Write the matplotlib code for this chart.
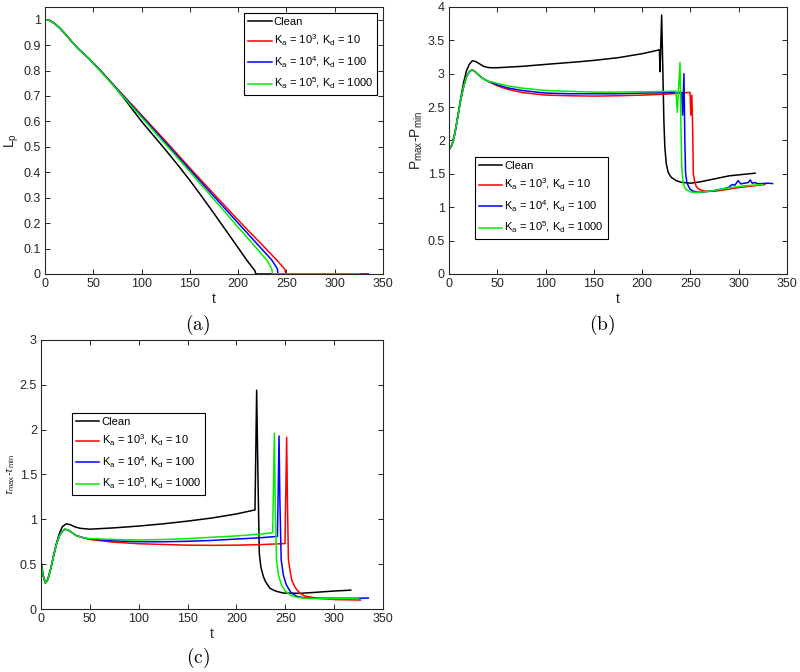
import matplotlib
matplotlib.use('Agg')
import matplotlib.pyplot as plt
from matplotlib.ticker import FormatStrFormatter

plt.rcParams['font.family'] = ['Liberation Sans', 'DejaVu Sans']
plt.rcParams['mathtext.fontset'] = 'custom'
plt.rcParams['mathtext.rm'] = 'Liberation Sans'
plt.rcParams['mathtext.it'] = 'Liberation Sans:italic'
plt.rcParams['mathtext.bf'] = 'Liberation Sans:bold'

labels = ['Clean',
          r'K$_\mathrm{a}$ = 10$^3$, K$_\mathrm{d}$ = 10',
          r'K$_\mathrm{a}$ = 10$^4$, K$_\mathrm{d}$ = 100',
          r'K$_\mathrm{a}$ = 10$^5$, K$_\mathrm{d}$ = 1000']
colors = ['black', 'red', 'blue', '#00ee00']

# (a) L_p
a_start_t = [0, 5, 10, 15, 20, 25, 30, 35, 40, 45]
a_start_y = [1.0, 0.997, 0.985, 0.968, 0.948, 0.926, 0.904, 0.884, 0.866, 0.849]

a_clean_t = a_start_t + [50, 60, 70, 80, 90, 100, 110, 120, 130, 140, 150, 160, 175, 190, 200,
                         208.8, 217.5, 218.2, 317]
a_clean_y = a_start_y + [0.830, 0.790, 0.746, 0.700, 0.650, 0.600, 0.555, 0.510, 0.464, 0.417,
                         0.368, 0.317, 0.238, 0.157, 0.103, 0.055, 0.012, 0, 0]
a_red_t = a_start_t + [50, 60, 80, 100, 125, 151.9, 175, 200, 225, 239.9, 245, 248.5, 249.3, 327]
a_red_y = a_start_y + [0.829, 0.789, 0.707, 0.625, 0.522, 0.409, 0.314, 0.212, 0.114, 0.055, 0.033, 0.018, 0, 0]
a_blue_t = a_start_t + [50, 60, 80, 100, 125, 150.2, 175, 200, 225, 234.8, 238, 240.6, 241.3, 335]
a_blue_y = a_start_y + [0.829, 0.788, 0.705, 0.621, 0.516, 0.409, 0.305, 0.200, 0.096, 0.055, 0.036, 0.020, 0, 0]
a_green_t = a_start_t + [50, 60, 80, 100, 125, 148.5, 175, 200, 215, 229.5, 232.5, 234.8, 235.5, 326]
a_green_y = a_start_y + [0.829, 0.787, 0.702, 0.616, 0.509, 0.409, 0.293, 0.184, 0.119, 0.055, 0.036, 0.020, 0, 0]

# (b) P_max - P_min
b_clean_t = [0, 3, 6, 9, 12, 15, 18, 21, 24.2, 28, 32, 36, 40, 43, 50, 75, 100, 135, 150, 175,
             200, 217, 217.9, 218.5, 220.2, 221.5, 222.5, 223.5, 225, 227, 230, 235, 240, 250,
             260, 270, 280, 290, 300, 317]
b_clean_y = [1.86, 1.93, 2.1, 2.35, 2.62, 2.86, 3.04, 3.14, 3.195, 3.18, 3.145, 3.11, 3.095, 3.09,
             3.09, 3.11, 3.14, 3.18, 3.2, 3.24, 3.30, 3.355, 3.36, 3.03, 3.88, 3.0, 2.3, 1.9, 1.65,
             1.52, 1.45, 1.40, 1.375, 1.36, 1.38, 1.41, 1.44, 1.47, 1.485, 1.51]
b_start_t = [0, 3, 6, 9, 12, 15, 18, 21, 23.5, 26, 30, 35, 40]
b_start_y = [1.86, 1.93, 2.1, 2.35, 2.6, 2.8, 2.95, 3.03, 3.055, 3.045, 2.99, 2.93, 2.89]
b_red_t = b_start_t + [45, 50, 60, 75, 100, 125, 150, 175, 200, 225, 249.6, 250.4, 251.5, 252.3,
                       253, 254.5, 256, 258, 262, 267, 275, 285, 300, 315, 327]
b_red_y = b_start_y + [2.855, 2.82, 2.77, 2.72, 2.68, 2.67, 2.665, 2.67, 2.68, 2.695, 2.72, 2.38,
                       2.68, 2.2, 1.5, 1.38, 1.31, 1.28, 1.25, 1.24, 1.24, 1.26, 1.295, 1.32, 1.34]
b_blue_t = b_start_t + [45, 50, 60, 75, 100, 125, 150, 175, 200, 225, 241, 241.9, 243.3, 244.2,
                        245, 246.5, 249.6, 253, 258, 265, 275, 285, 290, 293, 296, 299.5, 302,
                        306, 310, 312, 314, 317, 320, 325, 330, 335]
b_blue_y = b_start_y + [2.865, 2.835, 2.79, 2.75, 2.71, 2.70, 2.70, 2.70, 2.71, 2.715, 2.72, 2.38,
                        3.0, 2.0, 1.5, 1.36, 1.27, 1.24, 1.225, 1.23, 1.25, 1.28, 1.30, 1.34,
                        1.33, 1.40, 1.35, 1.36, 1.37, 1.41, 1.36, 1.37, 1.35, 1.355, 1.36, 1.355]
b_green_t = b_start_t + [45, 50, 60, 75, 100, 125, 150, 175, 200, 225, 235, 236.4, 237.5, 239.2,
                         240.2, 241, 242.5, 245, 250, 255, 260, 270, 280, 290, 300, 310, 320, 325]
b_green_y = b_start_y + [2.875, 2.855, 2.82, 2.785, 2.75, 2.735, 2.725, 2.725, 2.73, 2.735, 2.74,
                         2.42, 2.74, 3.17, 2.2, 1.6, 1.35, 1.27, 1.23, 1.22, 1.225, 1.24, 1.265,
                         1.29, 1.31, 1.325, 1.335, 1.34]

# (c) tau_max - tau_min
c_clean_t = [0, 2, 4.5, 7, 10, 13, 16, 19, 22, 26, 30, 35, 40, 50, 75, 100, 125, 150, 175, 200,
             219, 220.7, 222, 223.4, 225, 227.6, 230, 234.4, 240, 248, 265, 280, 299, 317]
c_clean_y = [0.53, 0.38, 0.29, 0.33, 0.45, 0.60, 0.74, 0.85, 0.92, 0.95, 0.94, 0.915, 0.90, 0.89,
             0.905, 0.925, 0.95, 0.98, 1.015, 1.06, 1.105, 2.44, 1.5, 0.62, 0.47, 0.36, 0.30,
             0.23, 0.20, 0.178, 0.175, 0.185, 0.20, 0.21]
c_start_t = [0, 2, 4.5, 7, 10, 13, 16, 19, 22, 24.5, 28, 32, 36, 40, 45]
c_start_y = [0.53, 0.38, 0.29, 0.33, 0.45, 0.60, 0.73, 0.82, 0.87, 0.89, 0.88, 0.85, 0.82, 0.805, 0.79]
c_red_t = c_start_t + [50, 75, 100, 125, 150, 175, 200, 225, 249.7, 251.4, 252.2, 253.2, 255,
                       256.7, 260, 265, 270, 282, 300, 327]
c_red_y = c_start_y + [0.775, 0.745, 0.728, 0.72, 0.712, 0.71, 0.712, 0.718, 0.73, 1.915, 1.2,
                       0.55, 0.42, 0.32, 0.24, 0.175, 0.145, 0.12, 0.105, 0.1]
c_blue_t = c_start_t + [50, 75, 100, 125, 150, 175, 200, 225, 242, 243.6, 244.5, 245.8, 248, 251,
                        256, 262, 270, 285, 300, 320, 335]
c_blue_y = c_start_y + [0.78, 0.76, 0.75, 0.75, 0.755, 0.765, 0.78, 0.795, 0.81, 1.93, 1.2, 0.55,
                        0.38, 0.27, 0.18, 0.14, 0.125, 0.12, 0.12, 0.12, 0.122]
c_green_t = c_start_t + [50, 75, 100, 125, 150, 175, 200, 225, 237.1, 238.8, 239.7, 241, 243, 246,
                         250, 256, 262, 270, 285, 300, 325]
c_green_y = c_start_y + [0.785, 0.775, 0.77, 0.775, 0.785, 0.80, 0.815, 0.835, 0.851, 1.96, 1.2,
                         0.55, 0.38, 0.27, 0.2, 0.15, 0.13, 0.12, 0.115, 0.115, 0.12]

panels = [
    dict(rect=[0.05625, 0.5923, 0.4225, 0.3973], ylim=1.05, ystep=0.1,
         ylabel=r'L$_\mathrm{p}$', ylsize=10, legend=('upper right', (0.982, 0.978)),
         tag=r'$\mathrm{(a)}$', tagpos=(0.2475, 0.5164),
         series=[(a_clean_t, a_clean_y), (a_red_t, a_red_y), (a_blue_t, a_blue_y), (a_green_t, a_green_y)]),
    dict(rect=[0.56125, 0.5923, 0.4225, 0.3973], ylim=4, ystep=0.5,
         ylabel=r'P$_\mathrm{max}$-P$_\mathrm{min}$', ylsize=10, legend=('upper left', (0.077, 0.438)),
         tag=r'$\mathrm{(b)}$', tagpos=(0.7525, 0.5164),
         series=[(b_clean_t, b_clean_y), (b_red_t, b_red_y), (b_blue_t, b_blue_y), (b_green_t, b_green_y)]),
    dict(rect=[0.05125, 0.09375, 0.4275, 0.4003], ylim=3, ystep=0.5,
         ylabel=r'$\tau_\mathrm{max}$-$\tau_\mathrm{min}$', ylsize=8, legend=('upper left', (0.091, 0.729)),
         tag=r'$\mathrm{(c)}$', tagpos=(0.2475, 0.0208),
         series=[(c_clean_t, c_clean_y), (c_red_t, c_red_y), (c_blue_t, c_blue_y), (c_green_t, c_green_y)]),
]

fig = plt.figure(figsize=(8, 6.72), dpi=100)
edge = '#262626'

for p in panels:
    ax = fig.add_axes(p['rect'])
    for (t, y), c, lab in zip(p['series'], colors, labels):
        ax.plot(t, y, color=c, lw=1.1, label=lab)
    ax.set_xlim(0, 350)
    ax.set_ylim(0, p['ylim'])
    ax.set_xticks(range(0, 351, 50))
    n = int(round(p['ylim'] / p['ystep']))
    ax.set_yticks([i * p['ystep'] for i in range(n + 1)])
    ax.yaxis.set_major_formatter(FormatStrFormatter('%g'))
    ax.tick_params(direction='in', top=True, right=True, length=3.5, width=0.7,
                   labelsize=9, colors=edge, pad=3)
    for s in ax.spines.values():
        s.set_color(edge)
        s.set_linewidth(0.8)
    ax.set_xlabel('t', fontsize=10, color=edge, labelpad=1)
    ax.set_ylabel(p['ylabel'], fontsize=p['ylsize'], color=edge, labelpad=2)
    loc, anchor = p['legend']
    leg = ax.legend(loc=loc, bbox_to_anchor=anchor, fontsize=8, fancybox=False,
                    framealpha=1, edgecolor='black', borderaxespad=0, handlelength=2.1,
                    handletextpad=0.2, labelspacing=0.55, borderpad=0.35)
    leg.get_frame().set_linewidth(0.8)
    fig.text(p['tagpos'][0], p['tagpos'][1], p['tag'], math_fontfamily='cm',
             fontsize=14, ha='center', va='center')

fig.savefig('out.png', dpi=100)
